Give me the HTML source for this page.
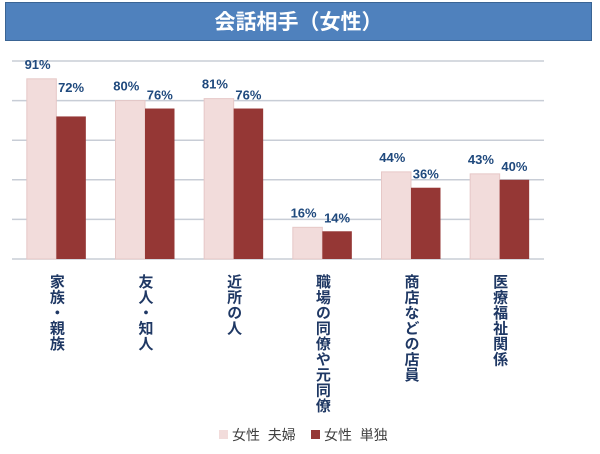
<!DOCTYPE html>
<html><head><meta charset="utf-8"><style>
body{margin:0;background:#fff;width:600px;height:454px;overflow:hidden;font-family:"Liberation Sans","Noto Sans CJK JP",sans-serif}
#title{position:absolute;left:5px;top:2px;width:587px;height:39px;background:#4f81bd;border:1px solid #3a6494;color:#fff;font-weight:bold;font-size:21px;line-height:39px;text-align:center;box-sizing:border-box;font-family:"Liberation Sans","Noto Sans CJK JP",sans-serif}
</style></head><body>
<div id="title">会話相手（女性）</div>
<svg id="chart" width="600" height="454" style="position:absolute;left:0;top:0"></svg>
<script>
const categories=["家族・親族","友人・知人","近所の人","職場の同僚や元同僚","商店などの店員","医療福祉関係"];
const seriesCouple=[91,80,81,16,44,43];
const seriesAlone=[72,76,76,14,36,40];
const seriesNames=["女性 夫婦","女性 単独"];
const gridTicks=[0,20,40,60,80,100];
const NS="http://www.w3.org/2000/svg";
const svg=document.getElementById('chart');
const x0=12,x1=544,y0=259,yTop=61;
const y=v=>y0-(v/100)*(y0-yTop);
const step=(x1-x0)/categories.length;
const cx=i=>x0+step*(i+0.5);
const bw=29.5;
function mk(t,a){const e=document.createElementNS(NS,t);for(const k in a)e.setAttribute(k,a[k]);svg.appendChild(e);return e;}
gridTicks.forEach(t=>{
 const l=mk('line',{x1:x0,x2:x1,y1:y(t),y2:y(t),stroke:'#c8cdd6','stroke-width':1.5});
 
 
});
const fmt=v=>v+'%';
categories.forEach((c,i)=>{
 const a=seriesCouple[i],b=seriesAlone[i];
 const r1=mk('rect',{x:cx(i)-bw,y:y(a),width:bw,height:y0-y(a),fill:'#f2dcdb',stroke:'#e6c8c7','stroke-width':1});
 
 
 const r2=mk('rect',{x:cx(i),y:y(b),width:bw,height:y0-y(b),fill:'#953735'});
 
 
 const t1=mk('text',{x:cx(i)-bw/2-4,y:y(a)-10,'text-anchor':'middle','font-size':13,'font-weight':'bold',fill:'#1f497d'});
 t1.textContent=fmt(a);
 
 
 const t2=mk('text',{x:cx(i)+bw/2,y:Math.min(y(b)-9,y(a)+13),'text-anchor':'middle','font-size':13,'font-weight':'bold',fill:'#1f497d'});
 t2.textContent=fmt(b);
 
 
 const lab=mk('text',{x:cx(i),y:274,'font-size':15,'font-weight':'bold',fill:'#1f3864',style:'writing-mode:vertical-rl;letter-spacing:0.5px'});
 lab.textContent=c;
 
 
});
const lg=[{x:219,c:'#f2dcdb',n:seriesNames[0]},{x:311,c:'#953735',n:seriesNames[1]}];
lg.forEach(o=>{
 const r=mk('rect',{x:o.x,y:430,width:9,height:9,fill:o.c});
 
 
 const t=mk('text',{x:o.x+13,y:440,'font-size':14,fill:'#404040'});
 t.textContent=o.n.replace(' ','\u00a0\u00a0');
 
 
});
</script>
</body></html>
